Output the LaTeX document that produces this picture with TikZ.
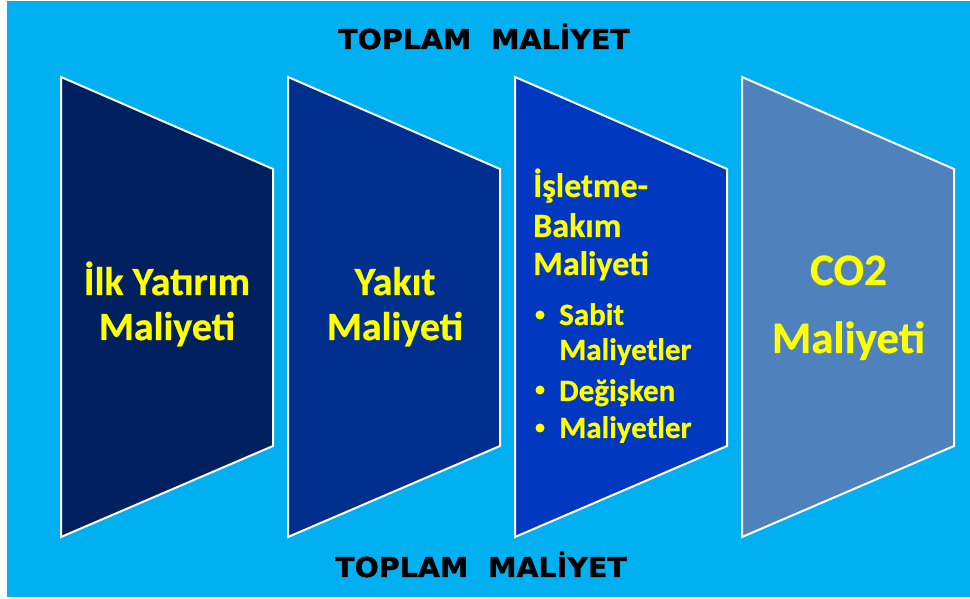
\documentclass[tikz,border=0pt]{standalone}
\usepackage{fontspec}
\newfontfamily\calfont{Carlito}[BoldFeatures={FakeBold=0.6}]
\newfontfamily\dvsfont{DejaVu Sans}[BoldFeatures={FakeBold=1.2}]
\definecolor{bgblue}{HTML}{00B0F0}
\definecolor{sone}{HTML}{002060}
\definecolor{stwo}{HTML}{002F8E}
\definecolor{sthree}{HTML}{0038C0}
\definecolor{sfour}{HTML}{4F81BD}
\definecolor{ytext}{HTML}{FFFF00}
\tikzset{
  panel/.style={draw=white, line width=2pt, line join=miter},
  bigtxt/.style={text=ytext, inner sep=0pt, anchor=base, font=\calfont\bfseries\fontsize{40}{45}\selectfont},
  cotxt/.style={text=ytext, inner sep=0pt, anchor=base, font=\calfont\bfseries\fontsize{45}{50}\selectfont},
  headtxt/.style={text=ytext, inner sep=0pt, anchor=base west, font=\calfont\bfseries\fontsize{34}{39}\selectfont},
  itemtxt/.style={text=ytext, inner sep=0pt, anchor=base west, font=\calfont\bfseries\fontsize{31}{35}\selectfont},
  bulletdot/.style={circle, fill=ytext, inner sep=0pt, minimum size=9pt},
  toptxt/.style={text=black, inner sep=0pt, anchor=base, font=\dvsfont\bfseries\fontsize{27.4}{30}\selectfont}
}
\begin{document}
\begin{tikzpicture}[x=1pt,y=1pt]
\useasboundingbox (0,0) rectangle (970,599);
\fill[white] (0,0) rectangle (970,599);
\fill[bgblue] (7,2) rectangle (970,598);
% panels
\foreach \L/\C in {61/sone,288/stwo,515/sthree,742/sfour}{
  \filldraw[panel, fill=\C] (\L,522) -- (\L+212,430) -- (\L+212,153) -- (\L,62) -- cycle;
}
% titles
\node[toptxt] (ttop) at (484,550) {\scalebox{1.04}[1]{TOPLAM\ \ MAL\.IYET}};
\node[toptxt] (tbot) at (481,22) {\scalebox{1.04}[1]{TOPLAM\ \ MAL\.IYET}};
% panel 1
\node[bigtxt] (a1) at (167,304) {İlk Yatırım};
\node[bigtxt] (a2) at (167,259) {Maliyeti};
% panel 2
\node[bigtxt] (b1) at (395,304) {Yakıt};
\node[bigtxt] (b2) at (395,259) {Maliyeti};
% panel 3
\node[headtxt] (c1) at (533,402) {İşletme-};
\node[headtxt] (c2) at (533,362) {Bakım};
\node[headtxt] (c3) at (533,324) {Maliyeti};
\node[bulletdot] (d1) at (540,284) {};
\node[itemtxt] (e1) at (559,274) {Sabit};
\node[itemtxt] (e2) at (559,239) {Maliyetler};
\node[bulletdot] (d2) at (540,209) {};
\node[itemtxt] (e3) at (559,198) {Değişken};
\node[bulletdot] (d3) at (540,171) {};
\node[itemtxt] (e4) at (559,161) {Maliyetler};
% panel 4
\node[cotxt] (f1) at (848.5,314) {CO2};
\node[cotxt] (f2) at (848.5,246) {Maliyeti};
\end{tikzpicture}
\end{document}
